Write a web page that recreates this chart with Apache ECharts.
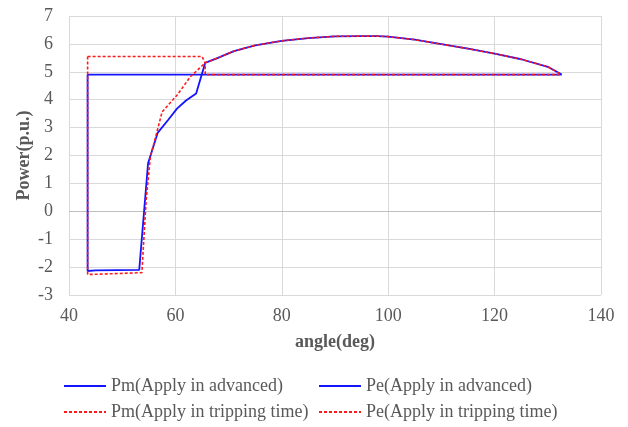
<!DOCTYPE html>
<html>
<head>
<meta charset="utf-8">
<script src="https://cdn.jsdelivr.net/npm/echarts@6/dist/echarts.min.js"></script>
<style>
  html, body { margin: 0; padding: 0; background: #fff; }
  #chart { width: 628px; height: 427px; }
</style>
</head>
<body>
<div id="chart"></div>
<script>
// shared Pe arc (both cases follow the same post-fault curve)
const arcAngle = [65.6, 68, 71, 75, 80, 85, 90, 95, 98, 100, 105, 110, 115, 120, 125, 130, 132.6]
const arcPower = [5.32, 5.5, 5.74, 5.95, 6.11, 6.21, 6.27, 6.28, 6.28, 6.26, 6.15, 5.99, 5.83, 5.65, 5.45, 5.18, 4.9]

// Apply in advanced
const pmAdvAngle = [43.5, 132.6]
const pmAdvPower = [4.9, 4.9]
const peAdvAngle = [43.5, 43.5, 45, 53.2, 54.86, 56.66, 58.7, 60.3, 62, 63.9]
const peAdvPower = [4.9, -2.14, -2.12, -2.1, 1.72, 2.81, 3.29, 3.68, 3.97, 4.22]

// Apply in tripping time
const pmTripAngle = [43.5, 65, 65.6, 65.6, 132.6]
const pmTripPower = [5.55, 5.55, 5.32, 4.9, 4.9]
const peTripAngle = [43.5, 43.5, 44.5, 53.7, 54.5, 55.3, 57.5, 60.3, 62.8]
const peTripPower = [5.55, -2.26, -2.26, -2.2, 0.4, 1.95, 3.56, 4.16, 4.82]

const xTicks = { min: 40, max: 140, interval: 20 }
const yTicks = { min: -3, max: 7, interval: 1 }

const names = [
  'Pm(Apply in advanced)',
  'Pe(Apply in advanced)',
  'Pm(Apply in tripping time)',
  'Pe(Apply in tripping time)'
]

function zip(xs, ys) {
  return xs.map((x, i) => [x, ys[i]])
}

const font = 'Liberation Serif'
const grey = '#595959'
const blue = '#1414ff'
const red = '#ff1a1a'

let myChart = echarts.init(document.getElementById('chart'))

function legendAt(name, left, top) {
  return {
    data: [name],
    left: left,
    top: top,
    itemWidth: 42,
    itemHeight: 12,
    padding: 0,
    // hide the circle that line series add to their legend icon
    itemStyle: { opacity: 0 },
    textStyle: { fontFamily: font, fontSize: 18, color: grey }
  }
}

function lineSeries(name, data, color, dashed, z) {
  return {
    type: 'line',
    name: name,
    data: data,
    showSymbol: false,
    symbol: 'none',
    z: z,
    lineStyle: { color: color, width: dashed ? 1.6 : 1.8, type: dashed ? [3, 2] : 'solid' },
    itemStyle: { color: color },
    animation: false
  }
}

let option = {
  backgroundColor: '#fff',
  grid: { left: 69, right: 27, top: 16, bottom: 132 },
  legend: [
    legendAt(names[0], 63, 377),
    legendAt(names[1], 318, 377),
    legendAt(names[2], 63, 403),
    legendAt(names[3], 318, 403)
  ],
  xAxis: {
    type: 'value',
    min: xTicks.min,
    max: xTicks.max,
    interval: xTicks.interval,
    name: 'angle(deg)',
    nameLocation: 'middle',
    nameGap: 38,
    nameMoveOverlap: false,
    nameTextStyle: { fontFamily: font, fontSize: 18, fontWeight: 'bold', color: grey },
    axisLine: { show: false },
    axisTick: { show: false },
    axisLabel: { fontFamily: font, fontSize: 18, color: grey, margin: 12 },
    splitLine: { show: true, lineStyle: { color: '#d9d9d9', width: 1 } }
  },
  yAxis: {
    type: 'value',
    min: yTicks.min,
    max: yTicks.max,
    interval: yTicks.interval,
    name: 'Power(p.u.)',
    nameLocation: 'middle',
    nameGap: 36,
    nameMoveOverlap: false,
    nameTextStyle: { fontFamily: font, fontSize: 18, fontWeight: 'bold', color: grey },
    axisLine: { show: false },
    axisTick: { show: false },
    axisLabel: { fontFamily: font, fontSize: 18, color: grey, margin: 16 },
    splitLine: { show: true, lineStyle: { color: '#d9d9d9', width: 1 } }
  },
  series: [
    Object.assign(lineSeries(names[0], zip(pmAdvAngle, pmAdvPower), blue, false, 2), {
      markLine: {
        silent: true,
        symbol: 'none',
        label: { show: false },
        lineStyle: { color: '#bfbfbf', type: 'solid', width: 1 },
        data: [{ yAxis: 0 }],
        z: 1
      }
    }),
    lineSeries(names[1], zip(peAdvAngle.concat(arcAngle), peAdvPower.concat(arcPower)), blue, false, 2),
    lineSeries(names[2], zip(pmTripAngle, pmTripPower), red, true, 3),
    lineSeries(names[3], zip(peTripAngle.concat(arcAngle), peTripPower.concat(arcPower)), red, true, 3)
  ]
}

myChart.setOption(option)
</script>
</body>
</html>
